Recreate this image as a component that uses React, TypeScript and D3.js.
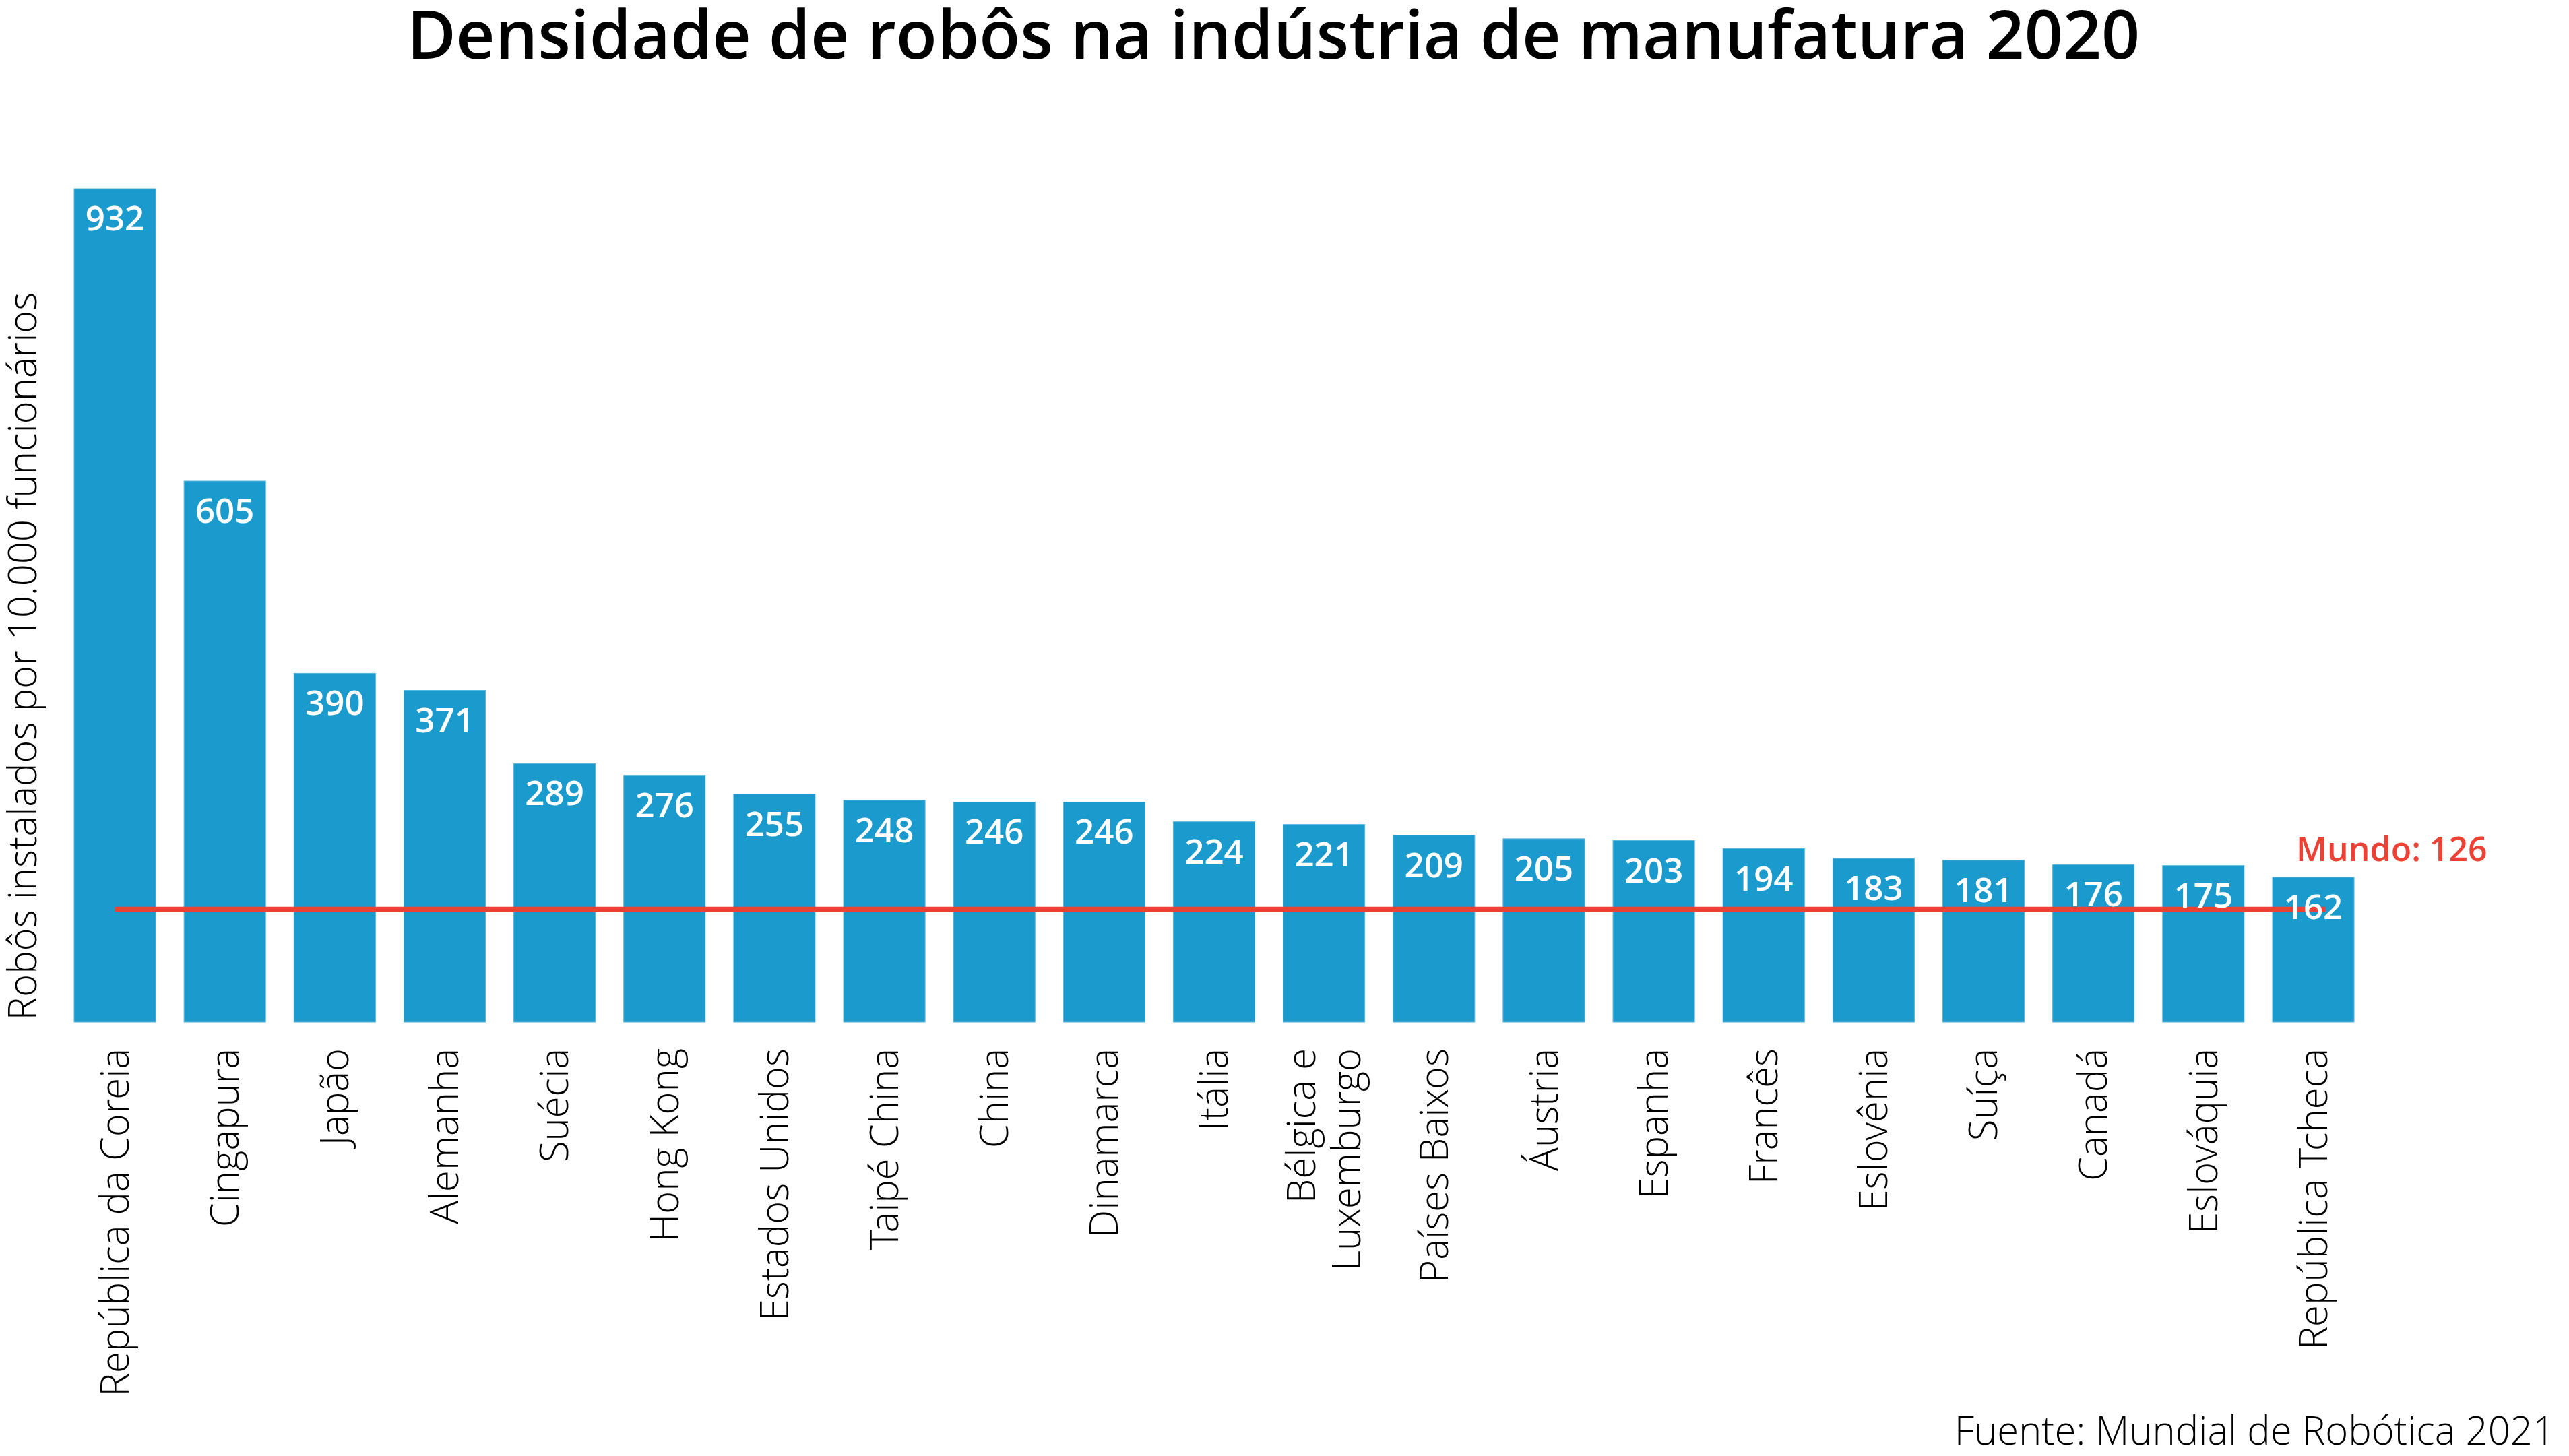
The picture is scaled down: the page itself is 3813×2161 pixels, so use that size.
// App
import { useEffect } from 'react';
import * as d3 from 'd3';

// Data
const countries: string[] = [
	'República da Coreia',
	'Cingapura',
	'Japão',
	'Alemanha',
	'Suécia',
	'Hong Kong',
	'Estados Unidos',
	'Taipé China',
	'China',
	'Dinamarca',
	'Itália',
	'Bélgica e\nLuxemburgo',
	'Países Baixos',
	'Áustria',
	'Espanha',
	'Francês',
	'Eslovênia',
	'Suíça',
	'Canadá',
	'Eslováquia',
	'República Tcheca'
];

const density: number[] = [
	932, 605, 390, 371, 289, 276, 255, 248, 246, 246, 224, 221, 209, 205, 203, 194, 183, 181, 176, 175, 162
];

const worldValue = 126;
const worldLabel = 'Mundo: 126';

const title = 'Densidade de robôs na indústria de manufatura 2020';
const yTitle = 'Robôs instalados por 10.000 funcionários';
const source = 'Fuente: Mundial de Robótica 2021';

const WIDTH = 3813;
const HEIGHT = 2161;
const BLUE = '#1b9bcd';
const RED = '#ee4136';
const FONT = "'Open Sans', 'Noto Sans', sans-serif";
const LIGHT = "'Open Sans Light', 'Open Sans', 'Noto Sans', sans-serif";

function RobotChart() {
	useEffect(() => {
		drawChart();

		function drawChart() {
			d3.select('#chart-container').select('svg').remove();

			const svg = d3
				.select('#chart-container')
				.append('svg')
				.attr('width', WIDTH)
				.attr('height', HEIGHT)
				.style('position', 'absolute')
				.style('left', 0)
				.style('top', 0)
				.style('background', '#ffffff')
				.style('font-family', FONT);

			const baseline = 1517;

			const x = d3
				.scaleBand<number>()
				.domain(d3.range(countries.length))
				.range([110, 3494])
				.paddingInner(0.258)
				.paddingOuter(0);

			const y = d3
				.scaleLinear()
				.domain([0, d3.max(density) as number])
				.range([baseline, 280]);

			// title
			svg.append('text')
				.attr('x', 1890)
				.attr('y', 87)
				.attr('text-anchor', 'middle')
				.style('font-size', '100px')
				.style('font-weight', 600)
				.style('fill', '#000')
				.text(title);

			// bars
			svg.append('g')
				.selectAll('rect')
				.data(density)
				.enter()
				.append('rect')
				.attr('x', (_, i) => x(i) as number)
				.attr('y', (d) => y(d))
				.attr('width', x.bandwidth())
				.attr('height', (d) => baseline - y(d))
				.style('fill', BLUE)
				.style('stroke', '#55b4dc')
				.style('stroke-width', 1);

			// world average line
			const lineY = y(worldValue);
			const last = density.length - 1;
			svg.append('line')
				.attr('x1', (x(0) as number) + x.bandwidth() / 2)
				.attr('x2', (x(last) as number) + x.bandwidth() / 2 + 18)
				.attr('y1', lineY)
				.attr('y2', lineY)
				.style('stroke', RED)
				.style('stroke-width', 8);

			// value labels
			svg.append('g')
				.selectAll('text')
				.data(density)
				.enter()
				.append('text')
				.attr('x', (_, i) => (x(i) as number) + x.bandwidth() / 2)
				.attr('y', (d) => y(d) + 62)
				.attr('text-anchor', 'middle')
				.style('font-size', '51px')
				.style('font-weight', 600)
				.style('fill', '#ffffff')
				.text((d) => d);

			// world label
			svg.append('text')
				.attr('x', (x(last) as number) + 35)
				.attr('y', y(density[last]) - 24)
				.style('font-size', '50px')
				.style('font-weight', 600)
				.style('fill', RED)
				.text(worldLabel);

			// category labels
			const cats = svg
				.append('g')
				.selectAll('text')
				.data(countries)
				.enter()
				.append('text')
				.attr('transform', (_, i) => `translate(${(x(i) as number) + x.bandwidth() / 2}, 1556) rotate(-90)`)
				.attr('text-anchor', 'end')
				.style('font-family', LIGHT)
				.style('font-size', '58px')
				.style('font-weight', 300)
				.style('fill', '#000');

			cats.each(function (d) {
				const lines = d.split('\n');
				const t = d3.select(this);
				lines.forEach((line, k) => {
					t.append('tspan')
						.attr('x', 0)
						.attr('dy', k === 0 ? `${0.35 - (lines.length - 1) * 0.58}em` : '1.16em')
						.text(line);
				});
			});

			// y axis title
			svg.append('text')
				.attr('transform', 'translate(54, 974) rotate(-90)')
				.attr('text-anchor', 'middle')
				.style('font-family', LIGHT)
				.style('font-size', '58px')
				.style('font-weight', 300)
				.style('fill', '#000')
				.text(yTitle);

			// source
			svg.append('text')
				.attr('x', 3792)
				.attr('y', 2144)
				.attr('text-anchor', 'end')
				.style('font-family', LIGHT)
				.style('font-size', '58px')
				.style('font-weight', 300)
				.style('fill', '#000')
				.text(source);
		}
	}, []);

	return <div id='chart-container' />;
}

export default function App() {
	return <RobotChart />;
}
